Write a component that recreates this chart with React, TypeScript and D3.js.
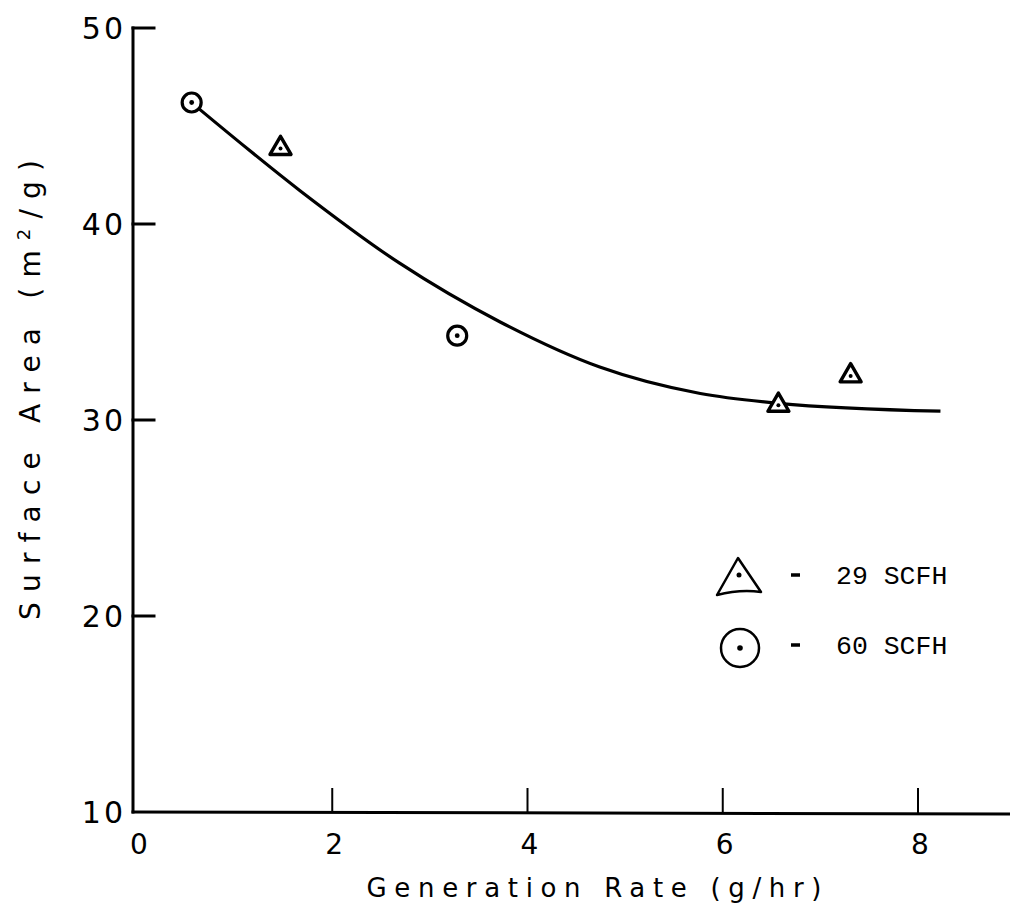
import React from 'react';
import * as d3 from 'd3';

// values
const xTicks = [0, 2, 4, 6, 8];
const yTicks = [10, 20, 30, 40, 50];

// 29 SCFH runs (triangles)
const scfh29X = [1.47, 6.57, 7.31];
const scfh29Y = [43.9, 30.8, 32.3];

// 60 SCFH runs (circles)
const scfh60X = [0.56, 3.28];
const scfh60Y = [46.2, 34.3];

// hand-drawn trend curve
const curveX = [0.63, 1.67, 2.69, 3.72, 4.74, 5.77, 6.57, 8.23];
const curveY = [45.9, 41.7, 38.0, 35.0, 32.7, 31.35, 30.85, 30.45];

const legendLabels = ['29 SCFH', '60 SCFH'];

const W = 1010;
const H = 914;

const sans = '"DejaVu Sans", sans-serif';
const mono = '"Liberation Mono", "DejaVu Sans Mono", monospace';

const App = () => {
  const x = d3.scaleLinear().domain([0, 8]).range([137, 918]);
  const y = d3.scaleLinear().domain([10, 50]).range([812, 28]);

  const curvePts = curveX.map((v, i) => [v, curveY[i]] as [number, number]);
  const line = d3.line<[number, number]>()
    .x(d => x(d[0]))
    .y(d => y(d[1]))
    .curve(d3.curveMonotoneX);

  const tri = (cx: number, cy: number, s: number) => {
    const h = s * 0.866;
    return `M${cx},${cy - h * 0.62}L${cx + s / 2},${cy + h * 0.38}L${cx - s / 2},${cy + h * 0.38}Z`;
  };

  const axisX0 = x(0) - 4;

  return (
    <svg width={W} height={H} style={{ position: 'absolute', left: 0, top: 0, background: '#fff' }}>
      {/* axes */}
      <g stroke="#000" strokeWidth={3} fill="none" strokeLinecap="square">
        <line x1={axisX0} y1={y(50)} x2={axisX0} y2={y(10)} />
        <line x1={axisX0} y1={y(10)} x2={W} y2={y(10) + 2} />
        {yTicks.filter(t => t > 10).map(t => (
          <line key={'yt' + t} x1={axisX0} y1={y(t)} x2={axisX0 + 21} y2={y(t)} />
        ))}
      </g>
      <g stroke="#000" strokeWidth={2} fill="none">
        {xTicks.filter(t => t > 0).map(t => (
          <line key={'xt' + t} x1={x(t)} y1={y(10) + 1} x2={x(t)} y2={y(10) - 24} />
        ))}
      </g>

      {/* tick labels */}
      <g fontFamily={sans} fontSize={30} fill="#000">
        {yTicks.map(t => (
          <text key={'yl' + t} x={axisX0 - 7} y={y(t)} dy="0.36em" textAnchor="end" letterSpacing={3}>
            {t}
          </text>
        ))}
        {xTicks.map(t => (
          <text key={'xl' + t} x={x(t) + 2} y={y(10) + 42} textAnchor="middle" fontSize={28}>
            {t}
          </text>
        ))}
      </g>

      {/* axis titles */}
      <text
        x={594}
        y={897}
        textAnchor="middle"
        fontFamily={sans}
        fontSize={26}
        textLength={455}
        lengthAdjust="spacing"
      >
        Generation Rate (g/hr)
      </text>
      <text
        transform={`translate(40,${390}) rotate(-90)`}
        textAnchor="middle"
        fontFamily={sans}
        fontSize={28}
        textLength={460}
        lengthAdjust="spacing"
      >
        Surface Area (m<tspan dy={-10} fontSize={18}>2</tspan><tspan dy={10}>/g)</tspan>
      </text>

      {/* trend curve */}
      <path d={line(curvePts) || ''} fill="none" stroke="#000" strokeWidth={3.2} />

      {/* 60 SCFH circles */}
      {scfh60X.map((v, i) => (
        <g key={'c' + i}>
          <circle cx={x(v)} cy={y(scfh60Y[i])} r={9.5} fill="#fff" stroke="#000" strokeWidth={3.2} />
          <circle cx={x(v)} cy={y(scfh60Y[i])} r={2.4} fill="#000" />
        </g>
      ))}

      {/* 29 SCFH triangles */}
      {scfh29X.map((v, i) => (
        <g key={'t' + i}>
          <path d={tri(x(v), y(scfh29Y[i]), 21)} fill="#fff" stroke="#000" strokeWidth={3.4} strokeLinejoin="round" />
          <circle cx={x(v)} cy={y(scfh29Y[i]) + 1} r={2} fill="#000" />
        </g>
      ))}

      {/* legend */}
      <g>
        <path d="M738,558 L761,592 Q740,589 717,595 Z" fill="none" stroke="#000" strokeWidth={2.5} strokeLinejoin="round" />
        <circle cx={739} cy={575} r={2.5} fill="#000" />
        <line x1={791} y1={575} x2={800} y2={575} stroke="#000" strokeWidth={3.5} />
        <text x={836} y={584} fontFamily={mono} fontSize={26.5}>{legendLabels[0]}</text>

        <circle cx={740} cy={648} r={19} fill="none" stroke="#000" strokeWidth={2.5} />
        <circle cx={740} cy={648} r={2.8} fill="#000" />
        <line x1={791} y1={645} x2={800} y2={645} stroke="#000" strokeWidth={3.5} />
        <text x={836} y={654} fontFamily={mono} fontSize={26.5}>{legendLabels[1]}</text>
      </g>
    </svg>
  );
};

export default App;
